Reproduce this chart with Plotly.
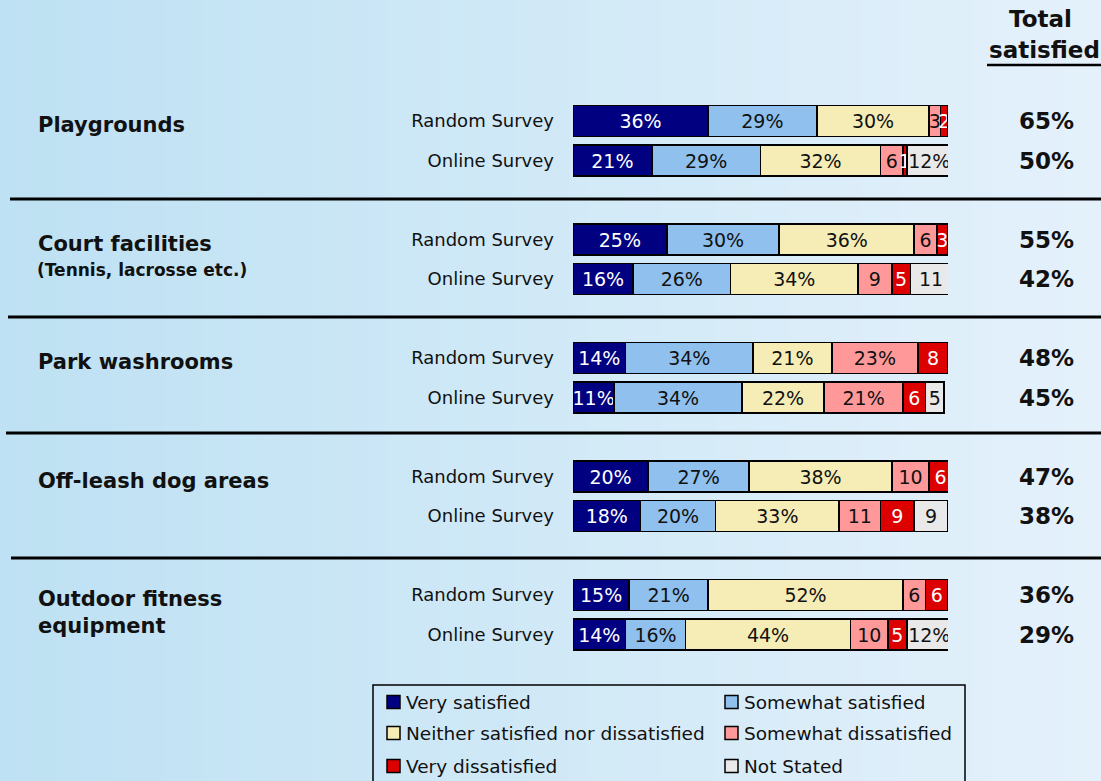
import plotly.graph_objects as go

# ---------------- data ----------------
categories = ["Playgrounds", "Court facilities", "Park washrooms",
              "Off-leash dog areas", "Outdoor fitness equipment"]
category_lines = [["Playgrounds"], ["Court facilities"], ["Park washrooms"],
                  ["Off-leash dog areas"], ["Outdoor fitness", "equipment"]]
category_notes = ["", "(Tennis, lacrosse etc.)", "", "", ""]
surveys = ["Random Survey", "Online Survey"]

series_names = ["Very satisfied", "Somewhat satisfied",
                "Neither satisfied nor dissatisfied", "Somewhat dissatisfied",
                "Very dissatisfied", "Not Stated"]

# row order: Playgrounds R, O, Court R, O, Washrooms R, O, Dog R, O, Fitness R, O
very_satisfied = [36, 21, 25, 16, 14, 11, 20, 18, 15, 14]
somewhat_satisfied = [29, 29, 30, 26, 34, 34, 27, 20, 21, 16]
neither = [30, 32, 36, 34, 21, 22, 38, 33, 52, 44]
somewhat_dissatisfied = [3, 6, 6, 9, 23, 21, 10, 11, 6, 10]
very_dissatisfied = [2, 1, 3, 5, 8, 6, 6, 9, 6, 5]
not_stated = [0, 12, 0, 11, 0, 5, 0, 9, 0, 12]
total_satisfied = [65, 50, 55, 42, 48, 45, 47, 38, 36, 29]

# whether the bar label carries a "%" sign
pct_very_satisfied = [True] * 10
pct_somewhat_satisfied = [True] * 10
pct_neither = [True] * 10
pct_somewhat_dissatisfied = [False, False, False, False, True, True, False, False, False, False]
pct_very_dissatisfied = [False] * 10
pct_not_stated = [False, True, False, False, False, False, False, False, False, True]

series_values = [very_satisfied, somewhat_satisfied, neither,
                 somewhat_dissatisfied, very_dissatisfied, not_stated]
series_pct = [pct_very_satisfied, pct_somewhat_satisfied, pct_neither,
              pct_somewhat_dissatisfied, pct_very_dissatisfied, pct_not_stated]

# ---------------- style ----------------
series_colors = ["#000080", "#8fc0ee", "#f6edb6", "#ff9999", "#dd0000", "#e9e9e9"]
text_colors = ["white", "#111111", "#111111", "#111111", "white", "#111111"]
FONT = "DejaVu Sans"
W, H = 1101, 781
BAR_LEFT, BAR_RIGHT = 573, 948


def px(x):
    return x / W


def py(y):
    return 1 - y / H


n_rows = len(very_satisfied)
row_pos = [(i // 2) * 3 + (i % 2) for i in range(n_rows)]
row_labels = [surveys[i % 2] for i in range(n_rows)]

fig = go.Figure()
for name, vals, pcts, col, tcol in zip(series_names, series_values, series_pct,
                                        series_colors, text_colors):
    texts = [("" if v == 0 else (f"{v}%" if p else f"{v}")) for v, p in zip(vals, pcts)]
    fig.add_trace(go.Bar(
        x=vals, y=row_pos, orientation="h", name=name,
        marker=dict(color=col, line=dict(color="black", width=1.6)),
        width=0.78,
        text=texts, textposition="inside", insidetextanchor="middle",
        textangle=0, constraintext="none",
        insidetextfont=dict(family=FONT, size=19, color=tcol),
        showlegend=False, hoverinfo="x+name",
    ))

# pixel row centre 121 for row 0, 39.5 px per row
y_top = -121 / 39.5
y_bot = (H - 121) / 39.5

fig.update_layout(
    width=W, height=H,
    margin=dict(l=0, r=0, t=0, b=0),
    barmode="stack",
    paper_bgcolor="#d4e9f6",
    plot_bgcolor="rgba(0,0,0,0)",
    font=dict(family=FONT, color="#111111"),
    uniformtext=dict(mode="show", minsize=19),
    xaxis=dict(domain=[px(BAR_LEFT), px(BAR_RIGHT)], range=[0, 100],
               visible=False, fixedrange=True),
    yaxis=dict(range=[y_bot, y_top], tickvals=row_pos, ticktext=row_labels,
               showgrid=False, zeroline=False, showline=False, ticks="",
               tickfont=dict(family=FONT, size=18, color="#111111"),
               ticklabelstandoff=18, fixedrange=True),
)

# background gradient
shapes = []
n_strips = 60
c0 = (190, 225, 243)
c1 = (228, 241, 251)
for k in range(n_strips):
    t = k / (n_strips - 1)
    c = tuple(int(round(a + (b - a) * t)) for a, b in zip(c0, c1))
    shapes.append(dict(type="rect", xref="paper", yref="paper",
                       x0=k / n_strips, x1=(k + 1) / n_strips + 0.002, y0=0, y1=1,
                       fillcolor=f"rgb{c}", line=dict(width=0), layer="below"))

# separator lines
for y_line, x_start in zip([199, 317, 433, 558], [10, 8, 6, 11]):
    shapes.append(dict(type="line", xref="paper", yref="paper",
                       x0=px(x_start), x1=1, y0=py(y_line), y1=py(y_line),
                       line=dict(color="black", width=3)))

# underline of header
shapes.append(dict(type="line", xref="paper", yref="paper",
                   x0=px(987), x1=1, y0=py(65), y1=py(65),
                   line=dict(color="black", width=2.5)))

annotations = []
# header
annotations.append(dict(text="<b>Total</b>", xref="paper", yref="paper",
                        x=px(1040), y=py(19), xanchor="center", yanchor="middle",
                        showarrow=False, font=dict(family=FONT, size=23, color="#111111")))
annotations.append(dict(text="<b>satisfied</b>", xref="paper", yref="paper",
                        x=px(987), y=py(50), xanchor="left", yanchor="middle",
                        showarrow=False, font=dict(family=FONT, size=23, color="#111111")))

# category labels
for g, (lines, note) in enumerate(zip(category_lines, category_notes)):
    r = row_pos[2 * g]
    for j, line in enumerate(lines):
        annotations.append(dict(text=f"<b>{line}</b>", xref="paper", yref="y",
                                x=px(36), y=r, xanchor="left", yanchor="middle",
                                yshift=-4 - 27 * j, showarrow=False,
                                font=dict(family=FONT, size=21, color="#111111")))
    if note:
        annotations.append(dict(text=f"<b>{note}</b>", xref="paper", yref="y",
                                x=px(35), y=r, xanchor="left", yanchor="middle",
                                yshift=-30, showarrow=False,
                                font=dict(family=FONT, size=17, color="#111111")))

# total satisfied column
for r, v in zip(row_pos, total_satisfied):
    annotations.append(dict(text=f"<b>{v}%</b>", xref="paper", yref="y",
                            x=px(1076), y=r, xanchor="right", yanchor="middle",
                            showarrow=False,
                            font=dict(family=FONT, size=23, color="#111111")))

# legend box
shapes.append(dict(type="rect", xref="paper", yref="paper",
                   x0=px(373), x1=px(965), y0=py(795), y1=py(685),
                   line=dict(color="black", width=1.5), fillcolor="rgba(0,0,0,0)"))
leg_cols = [387, 725]
leg_rows = [702, 733, 766]
for i, (name, col) in enumerate(zip(series_names, series_colors)):
    cx = leg_cols[i % 2]
    cy = leg_rows[i // 2]
    shapes.append(dict(type="rect", xref="paper", yref="paper",
                       x0=px(cx), x1=px(cx + 13), y0=py(cy + 6.5), y1=py(cy - 6.5),
                       fillcolor=col, line=dict(color="black", width=1.5)))
    annotations.append(dict(text=name, xref="paper", yref="paper",
                            x=px(cx + 17), y=py(cy), xanchor="left", yanchor="middle",
                            showarrow=False,
                            font=dict(family=FONT, size=18.5, color="#111111")))

fig.update_layout(shapes=shapes, annotations=annotations)

fig.write_html("out.html", include_plotlyjs=True, full_html=True,
               config={"displayModeBar": False},
               post_script="document.body.style.margin='0';document.body.style.overflow='hidden';")
